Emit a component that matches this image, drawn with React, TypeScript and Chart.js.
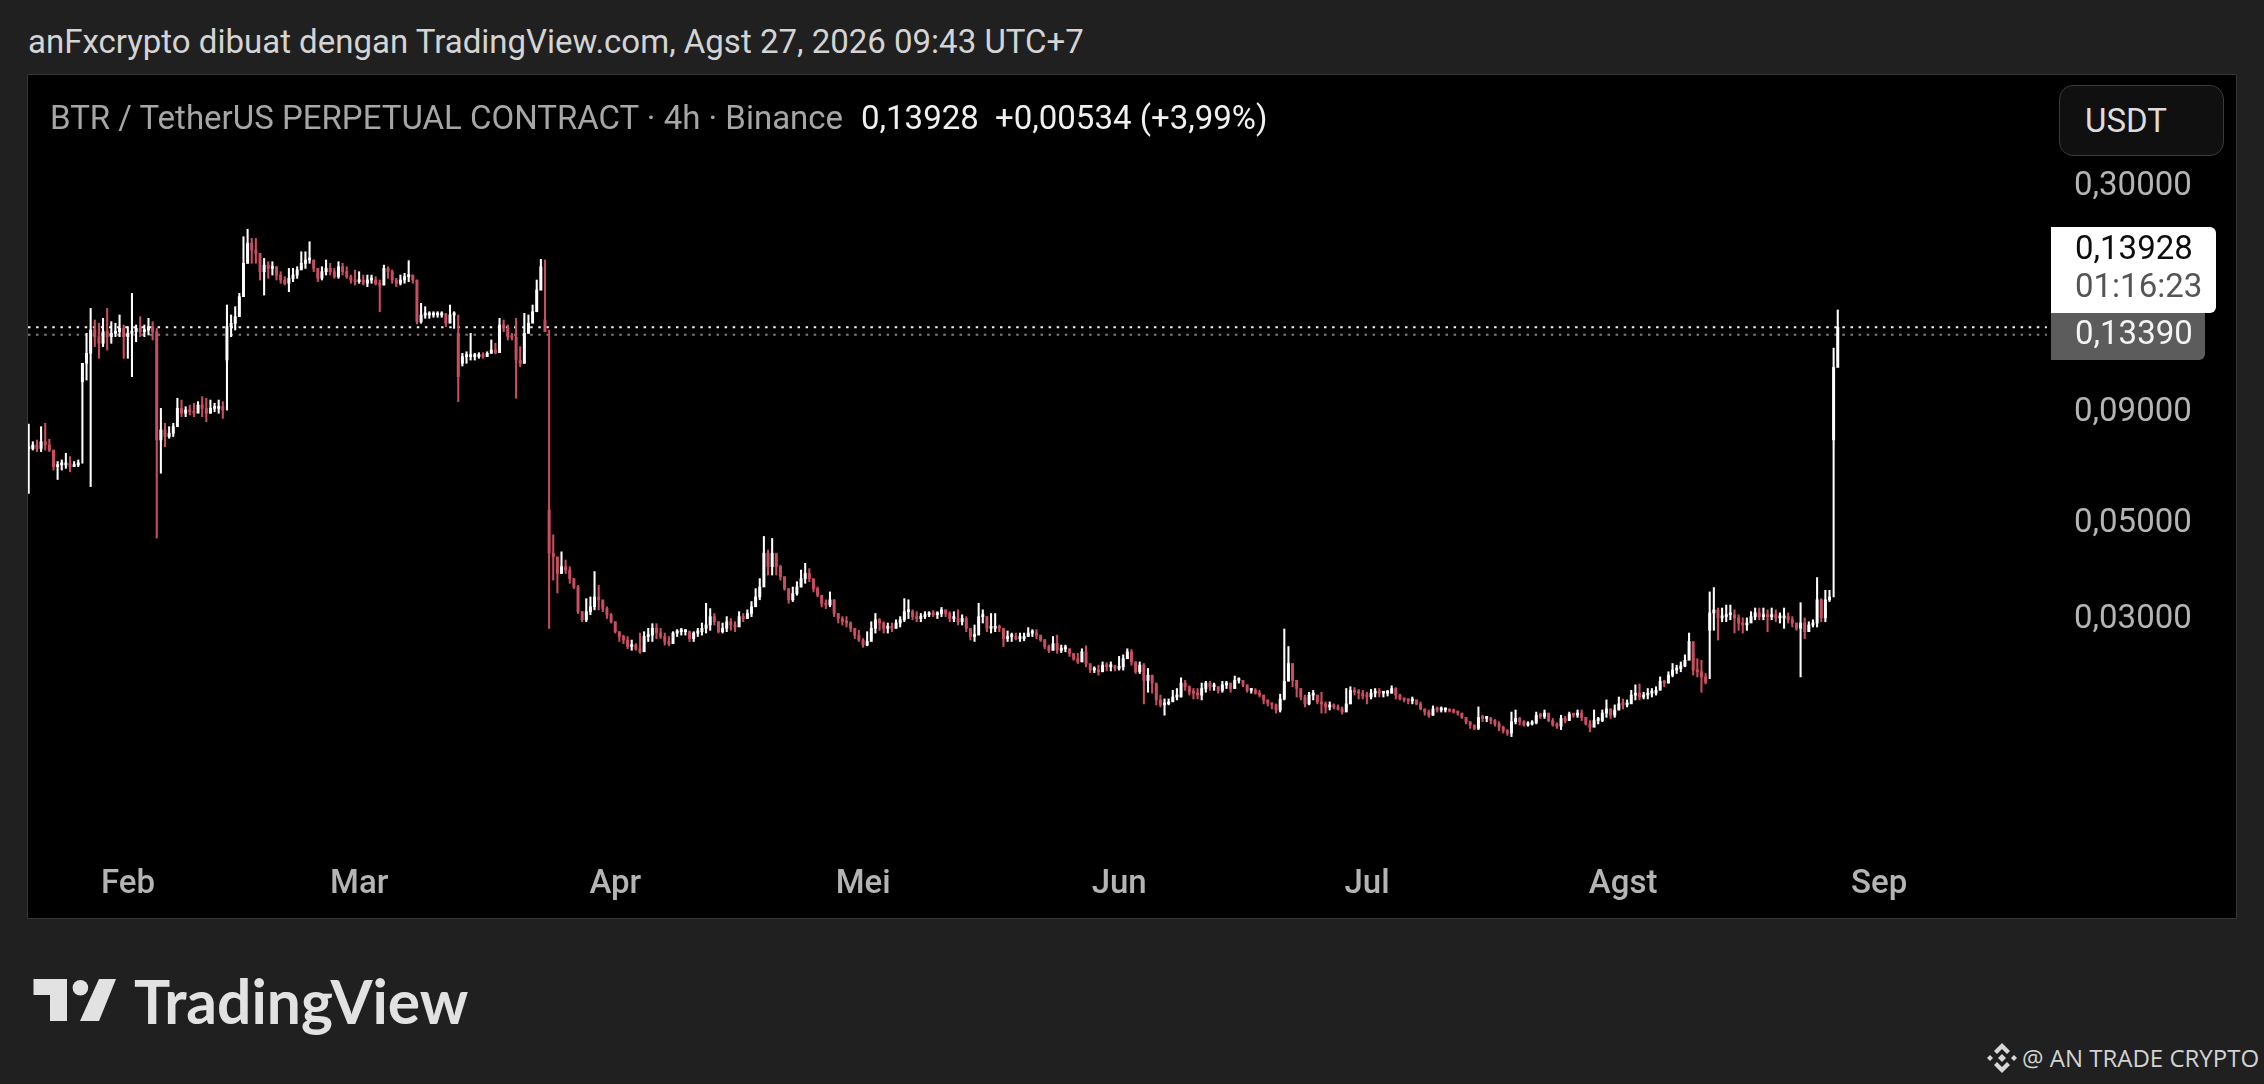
import React, { useEffect, useRef } from "react";
import { Chart, registerables } from "chart.js";

Chart.register(...registerables);

const highs = [
  .0833,.0758,.0765,.0821,.0836,.0768,.0725,.0682,.0688,.0713,
  .0700,.0682,.0688,.1150,.1349,.1540,.1448,.1423,.1461,.1540,
  .1435,.1423,.1487,.1410,.1398,.1668,.1410,.1474,.1410,.1461,
  .1435,.1385,.0905,.0836,.0821,.0836,.0955,.0946,.0913,.0921,
  .0930,.0938,.0963,.0955,.0946,.0930,.0946,.0938,.1568,.1487,
  .1554,.1668,.2255,.2346,.2235,.2235,.2063,.2009,.1974,.1974,
  .1922,.1872,.1823,.1905,.1905,.1922,.2081,.2081,.2195,.1992,
  .1905,.1922,.1992,.1957,.1905,.1974,.1957,.1922,.1839,.1889,
  .1872,.1839,.1839,.1839,.1823,.1791,.1939,.1922,.1889,.1807,
  .1839,.1856,.1985,.1839,.1791,.1582,.1554,.1513,.1513,.1513,
  .1513,.1500,.1568,.1513,.1487,.1213,.1223,.1349,.1213,.1217,
  .1217,.1223,.1302,.1279,.1461,.1448,.1410,.1349,.1461,.1257,
  .1500,.1487,.1568,.1791,.1999,.1992,.1373,.0462,.0383,.0422,
  .0404,.0390,.0366,.0353,.0307,.0329,.0332,.0380,.0353,.0324,
  .0315,.0304,.0291,.0276,.0271,.0269,.0264,.0259,.0274,.0276,
  .0281,.0288,.0288,.0281,.0274,.0269,.0276,.0279,.0281,.0279,
  .0277,.0276,.0281,.0289,.0321,.0312,.0304,.0291,.0289,.0299,
  .0296,.0291,.0307,.0304,.0310,.0324,.0347,.0366,.0458,.0426,
  .0453,.0411,.0393,.0366,.0347,.0350,.0360,.0383,.0397,.0386,
  .0357,.0350,.0335,.0327,.0341,.0327,.0304,.0299,.0299,.0291,
  .0278,.0278,.0266,.0276,.0291,.0304,.0296,.0291,.0289,.0289,
  .0294,.0299,.0329,.0327,.0310,.0307,.0304,.0307,.0307,.0309,
  .0307,.0314,.0310,.0307,.0307,.0310,.0302,.0299,.0276,.0286,
  .0321,.0310,.0299,.0304,.0304,.0286,.0278,.0277,.0274,.0274,
  .0274,.0274,.0282,.0279,.0279,.0271,.0265,.0257,.0269,.0271,
  .0257,.0257,.0252,.0246,.0246,.0252,.0256,.0231,.0229,.0231,
  .0235,.0234,.0235,.0231,.0242,.0244,.0252,.0251,.0235,.0235,
  .0233,.0227,.0219,.0206,.0197,.0193,.0193,.0202,.0204,.0216,
  .0213,.0207,.0204,.0204,.0210,.0212,.0212,.0210,.0206,.0212,
  .0212,.0210,.0218,.0216,.0213,.0208,.0204,.0204,.0202,.0197,
  .0192,.0189,.0188,.0198,.0280,.0255,.0233,.0213,.0204,.0197,
  .0200,.0202,.0197,.0200,.0190,.0190,.0188,.0187,.0185,.0204,
  .0206,.0205,.0203,.0202,.0200,.0203,.0204,.0204,.0201,.0202,
  .0207,.0205,.0198,.0194,.0193,.0195,.0192,.0190,.0183,.0182,
  .0186,.0185,.0185,.0184,.0183,.0183,.0181,.0179,.0175,.0171,
  .0168,.0185,.0177,.0176,.0175,.0173,.0171,.0167,.0164,.0180,
  .0182,.0175,.0172,.0171,.0172,.0180,.0179,.0182,.0179,.0174,
  .0170,.0177,.0176,.0180,.0179,.0182,.0182,.0175,.0172,.0182,
  .0175,.0182,.0192,.0183,.0187,.0195,.0193,.0192,.0202,.0208,
  .0209,.0200,.0204,.0204,.0206,.0217,.0213,.0223,.0233,.0231,
  .0235,.0244,.0274,.0248,.0239,.0237,.0221,.0341,.0349,.0313,
  .0313,.0318,.0318,.0310,.0302,.0297,.0297,.0307,.0313,.0313,
  .0313,.0310,.0313,.0310,.0305,.0313,.0305,.0299,.0289,.0322,
  .0297,.0291,.0294,.0368,.0329,.0344,.0344,.1247,.1527,
];

const lows = [
  .0576,.0725,.0719,.0719,.0725,.0719,.0652,.0620,.0652,.0658,
  .0646,.0664,.0664,.0676,.1052,.0597,.1257,.1181,.1257,.1234,
  .1279,.1325,.1325,.1181,.1181,.1071,.1290,.1325,.1325,.1337,
  .1302,.0454,.0641,.0738,.0772,.0779,.0851,.0866,.0866,.0874,
  .0866,.0897,.0866,.0843,.0882,.0889,.0882,.0858,.0897,.1325,
  .1373,.1500,.1639,.1957,.1957,.1957,.1791,.1653,.1807,.1839,
  .1791,.1760,.1744,.1683,.1775,.1807,.1905,.1905,.1957,.1872,
  .1775,.1791,.1839,.1839,.1807,.1807,.1839,.1807,.1760,.1744,
  .1760,.1744,.1729,.1760,.1744,.1513,.1744,.1807,.1760,.1729,
  .1744,.1760,.1775,.1760,.1418,.1423,.1461,.1461,.1469,.1469,
  .1469,.1398,.1435,.1385,.0938,.1134,.1150,.1170,.1170,.1181,
  .1181,.1192,.1213,.1209,.1234,.1361,.1302,.1302,.0955,.1130,
  .1150,.1349,.1487,.1513,.1698,.1361,.0281,.0363,.0339,.0380,
  .0376,.0357,.0347,.0304,.0291,.0291,.0302,.0310,.0310,.0307,
  .0296,.0289,.0274,.0262,.0259,.0252,.0250,.0250,.0246,.0255,
  .0262,.0262,.0266,.0266,.0257,.0256,.0262,.0269,.0271,.0271,
  .0262,.0262,.0269,.0271,.0274,.0278,.0286,.0274,.0274,.0276,
  .0278,.0276,.0286,.0291,.0296,.0299,.0318,.0327,.0373,.0373,
  .0373,.0373,.0363,.0344,.0321,.0324,.0335,.0350,.0357,.0360,
  .0341,.0332,.0315,.0312,.0315,.0299,.0289,.0286,.0283,.0276,
  .0266,.0262,.0254,.0256,.0266,.0274,.0278,.0274,.0274,.0276,
  .0281,.0283,.0291,.0296,.0294,.0291,.0291,.0296,.0299,.0299,
  .0296,.0299,.0299,.0291,.0291,.0286,.0286,.0276,.0264,.0262,
  .0283,.0289,.0276,.0274,.0276,.0276,.0255,.0262,.0262,.0264,
  .0262,.0263,.0269,.0269,.0266,.0262,.0252,.0247,.0250,.0246,
  .0247,.0248,.0242,.0237,.0233,.0235,.0229,.0222,.0222,.0219,
  .0223,.0224,.0224,.0224,.0225,.0225,.0239,.0231,.0221,.0221,
  .0188,.0200,.0199,.0187,.0185,.0177,.0187,.0191,.0192,.0195,
  .0202,.0197,.0193,.0193,.0192,.0200,.0202,.0202,.0199,.0200,
  .0204,.0200,.0204,.0210,.0206,.0200,.0199,.0198,.0195,.0188,
  .0186,.0183,.0179,.0180,.0192,.0215,.0206,.0195,.0192,.0185,
  .0187,.0192,.0188,.0179,.0179,.0182,.0183,.0182,.0178,.0182,
  .0188,.0197,.0193,.0193,.0188,.0193,.0195,.0195,.0195,.0196,
  .0199,.0193,.0192,.0190,.0188,.0188,.0187,.0182,.0177,.0175,
  .0177,.0180,.0180,.0180,.0180,.0179,.0177,.0174,.0169,.0165,
  .0164,.0164,.0171,.0171,.0169,.0167,.0163,.0161,.0159,.0158,
  .0169,.0168,.0167,.0167,.0168,.0169,.0174,.0174,.0171,.0167,
  .0165,.0164,.0170,.0172,.0175,.0175,.0172,.0168,.0162,.0169,
  .0169,.0171,.0175,.0174,.0175,.0182,.0183,.0185,.0190,.0192,
  .0192,.0193,.0193,.0195,.0197,.0204,.0206,.0210,.0217,.0221,
  .0223,.0229,.0239,.0219,.0217,.0200,.0209,.0215,.0278,.0264,
  .0291,.0291,.0294,.0274,.0278,.0274,.0278,.0294,.0294,.0294,
  .0294,.0276,.0294,.0291,.0289,.0281,.0289,.0283,.0278,.0217,
  .0266,.0278,.0283,.0283,.0291,.0291,.0324,.0332,.1170,
];

const closes = [
  .0731,.0745,.0731,.0758,.0745,.0725,.0664,.0670,.0670,.0676,
  .0664,.0670,.0676,.1150,.1213,.1373,.1325,.1279,.1361,.1325,
  .1349,.1361,.1385,.1325,.1349,.1361,.1385,.1361,.1373,.1398,
  .1361,.0765,.0807,.0779,.0793,.0821,.0905,.0882,.0897,.0889,
  .0882,.0921,.0905,.0882,.0905,.0905,.0913,.0897,.1398,.1423,
  .1474,.1639,.1957,.2176,.2100,.2063,.1872,.1939,.1905,.1922,
  .1839,.1791,.1760,.1807,.1839,.1889,.1957,.1992,.1992,.1905,
  .1807,.1872,.1905,.1872,.1823,.1922,.1872,.1823,.1791,.1775,
  .1791,.1760,.1791,.1791,.1760,.1744,.1905,.1872,.1791,.1760,
  .1791,.1823,.1839,.1791,.1435,.1487,.1487,.1487,.1487,.1487,
  .1495,.1423,.1487,.1487,.1071,.1192,.1192,.1192,.1192,.1196,
  .1192,.1213,.1234,.1217,.1410,.1385,.1325,.1320,.1170,.1150,
  .1349,.1423,.1513,.1698,.1922,.1361,.0419,.0411,.0376,.0390,
  .0383,.0366,.0350,.0307,.0294,.0307,.0315,.0332,.0327,.0312,
  .0302,.0291,.0276,.0269,.0264,.0255,.0257,.0252,.0248,.0269,
  .0271,.0281,.0274,.0269,.0262,.0259,.0274,.0276,.0276,.0276,
  .0266,.0274,.0276,.0281,.0286,.0299,.0291,.0276,.0281,.0291,
  .0286,.0283,.0299,.0296,.0304,.0315,.0332,.0350,.0419,.0390,
  .0419,.0390,.0370,.0347,.0327,.0338,.0350,.0366,.0376,.0366,
  .0347,.0335,.0321,.0318,.0327,.0304,.0296,.0291,.0289,.0281,
  .0271,.0264,.0257,.0262,.0281,.0294,.0289,.0281,.0283,.0281,
  .0289,.0294,.0307,.0307,.0299,.0296,.0299,.0302,.0304,.0302,
  .0304,.0310,.0304,.0296,.0296,.0291,.0296,.0281,.0269,.0271,
  .0299,.0299,.0281,.0281,.0283,.0281,.0266,.0269,.0269,.0266,
  .0266,.0269,.0274,.0274,.0271,.0264,.0255,.0250,.0259,.0250,
  .0252,.0252,.0246,.0239,.0235,.0248,.0233,.0225,.0225,.0223,
  .0231,.0229,.0230,.0227,.0229,.0239,.0248,.0235,.0223,.0231,
  .0213,.0219,.0210,.0192,.0187,.0188,.0190,.0195,.0195,.0210,
  .0206,.0200,.0199,.0197,.0204,.0210,.0206,.0206,.0202,.0208,
  .0210,.0204,.0213,.0213,.0208,.0202,.0202,.0199,.0197,.0192,
  .0189,.0187,.0182,.0193,.0212,.0233,.0213,.0204,.0195,.0188,
  .0197,.0197,.0190,.0188,.0185,.0187,.0185,.0183,.0180,.0188,
  .0202,.0200,.0199,.0196,.0195,.0199,.0200,.0199,.0199,.0199,
  .0204,.0197,.0193,.0192,.0191,.0192,.0188,.0183,.0180,.0177,
  .0183,.0182,.0182,.0182,.0181,.0180,.0179,.0175,.0171,.0168,
  .0165,.0175,.0174,.0174,.0172,.0169,.0166,.0163,.0161,.0171,
  .0174,.0171,.0168,.0169,.0170,.0177,.0176,.0179,.0172,.0168,
  .0167,.0174,.0172,.0178,.0177,.0179,.0175,.0169,.0166,.0172,
  .0172,.0179,.0183,.0177,.0182,.0188,.0187,.0188,.0197,.0199,
  .0195,.0197,.0199,.0199,.0202,.0212,.0210,.0219,.0225,.0227,
  .0230,.0237,.0262,.0225,.0223,.0217,.0211,.0305,.0310,.0297,
  .0299,.0302,.0302,.0297,.0289,.0286,.0289,.0299,.0305,.0299,
  .0302,.0299,.0302,.0297,.0297,.0299,.0294,.0289,.0281,.0289,
  .0276,.0286,.0289,.0327,.0297,.0327,.0332,.1125,.13928,
];

// Candles whose body does not start at the previous close (long single-sided wicks).
const openOverrides: Record<number, number> = {
  13: 0.1043,
  48: 0.117,
  104: 0.1349,
  105: 0.115,
  125: 0.1448,
  126: 0.0527,
  407: 0.0278,
  437: 0.0765,
};

const firstDay = 18.985; // day of the year of the first candle
const candleStepDays = 0.5;
const monthLabels = ["Feb", "Mar", "Apr", "Mei", "Jun", "Jul", "Agst", "Sep"];
const monthDays = [31, 59, 90, 120, 151, 181, 212, 243];
const priceTicks = [0.3, 0.09, 0.05, 0.03];
const lastPrice = 0.13928;
const prevClosePrice = 0.1339;

const UP = "#ffffff";
const DOWN = "#c94f60";

const fmt = (v: number) => v.toFixed(5).replace(".", ",");

function App() {
  const ref = useRef<HTMLCanvasElement>(null);

  useEffect(() => {
    document.body.style.margin = "0";
    document.body.style.background = "#202020";
    const xs = closes.map((_, i) => firstDay + i * candleStepDays);
    const opens = closes.map((_, i) =>
      openOverrides[i] !== undefined ? openOverrides[i] : i === 0 ? closes[0] : closes[i - 1]
    );
    const colors = closes.map((c, i) => (c >= opens[i] ? UP : DOWN));
    const xMin = 18.9;
    const xMax = 263.8;
    const lineEnd = 263.3;
    const noPad = (s: any) => {
      s.paddingTop = 0;
      s.paddingBottom = 0;
      s.paddingLeft = 0;
      s.paddingRight = 0;
    };

    const chart = new Chart(ref.current!, {
      type: "bar",
      data: {
        datasets: [
          {
            type: "line",
            data: [{ x: xMin, y: lastPrice }, { x: lineEnd, y: lastPrice }],
            borderColor: "#f2f2f2",
            borderWidth: 2,
            borderDash: [2.5, 5.6],
            pointRadius: 0,
            order: 3,
          },
          {
            type: "line",
            data: [{ x: xMin, y: prevClosePrice }, { x: lineEnd, y: prevClosePrice }],
            borderColor: "#7d7d7d",
            borderWidth: 2,
            borderDash: [2.5, 5.6],
            pointRadius: 0,
            order: 4,
          },
          {
            data: xs.map((x, i) => ({ x, y: [lows[i], highs[i]] })),
            backgroundColor: colors,
            barThickness: 1.4,
            grouped: false,
            order: 2,
          },
          {
            data: xs.map((x, i) => ({ x, y: [opens[i], closes[i]] })),
            backgroundColor: colors,
            barThickness: 2.3,
            minBarLength: 2,
            grouped: false,
            order: 1,
          },
        ],
      } as any,
      options: {
        responsive: false,
        animation: false,
        devicePixelRatio: 1,
        layout: { padding: 0 },
        plugins: { legend: { display: false }, tooltip: { enabled: false } },
        scales: {
          x: {
            type: "linear",
            min: xMin,
            max: xMax,
            offset: false,
            grid: { display: false },
            border: { display: false },
            afterBuildTicks: (s: any) => {
              s.ticks = monthDays.map((value) => ({ value }));
            },
            afterFit: (s: any) => {
              s.height = 63;
              noPad(s);
            },
            ticks: {
              autoSkip: false,
              maxRotation: 0,
              padding: 2,
              color: "#b4b4b4",
              font: { family: "Roboto", size: 33, weight: "500" },
              callback: (v: any) => monthLabels[monthDays.indexOf(Number(v))] ?? "",
            },
          },
          y: {
            type: "logarithmic",
            position: "right",
            min: 0.008417,
            max: 0.5328,
            bounds: "data",
            grid: { display: false },
            border: { display: false },
            afterBuildTicks: (s: any) => {
              s.ticks = priceTicks.map((value) => ({ value }));
            },
            afterFit: (s: any) => {
              s.width = 185;
              noPad(s);
            },
            ticks: {
              autoSkip: false,
              padding: 15,
              labelOffset: 3.5,
              color: "#b4b4b4",
              crossAlign: "near",
              font: { family: "Roboto", size: 33 },
              callback: (v: any) => fmt(Number(v)),
            },
          },
        },
      } as any,
    });
    return () => chart.destroy();
  }, []);

  const text = (style: React.CSSProperties): React.CSSProperties => ({
    position: "absolute",
    fontFamily: "Roboto, sans-serif",
    fontSize: 33,
    lineHeight: "40px",
    whiteSpace: "nowrap",
    ...style,
  });

  return (
    <div style={{ position: "fixed", left: 0, top: 0, width: 2264, height: 1084, background: "#202020", overflow: "hidden" }}>
      <div style={text({ left: 28, top: 22, color: "#d4d4d4" })}>
        anFxcrypto dibuat dengan TradingView.com, Agst 27, 2026 09:43 UTC+7
      </div>
      <div style={{ position: "absolute", left: 28, top: 75, width: 2208, height: 843, background: "#000", boxShadow: "0 0 0 1px #363636" }}>
        <canvas ref={ref} width={2208} height={843} style={{ display: "block", width: 2208, height: 843 }} />
      </div>
      <div style={text({ left: 50, top: 98, color: "#a6a6a6" })}>
        BTR / TetherUS PERPETUAL CONTRACT · 4h · Binance
      </div>
      <div style={text({ left: 861, top: 98, color: "#f0f0f0" })}>0,13928</div>
      <div style={text({ left: 995, top: 98, color: "#f0f0f0" })}>+0,00534 (+3,99%)</div>
      <div style={{ position: "absolute", left: 2059, top: 85, width: 165, height: 71, boxSizing: "border-box", background: "#101010", border: "1.5px solid #3a3a3a", borderRadius: 14 }} />
      <div style={text({ left: 2085, top: 101, color: "#dddddd" })}>USDT</div>
      <div style={{ position: "absolute", left: 2051, top: 313, width: 154, height: 47, background: "#5c5c5c", borderRadius: "0 0 6px 0" }} />
      <div style={{ position: "absolute", left: 2051, top: 227, width: 165, height: 86, background: "#ffffff", borderRadius: "0 6px 6px 0" }} />
      <div style={text({ left: 2075, top: 228, color: "#0d0d0d" })}>0,13928</div>
      <div style={text({ left: 2075, top: 266, color: "#555555" })}>01:16:23</div>
      <div style={text({ left: 2075, top: 313, color: "#f4f4f4" })}>0,13390</div>

      <svg style={{ position: "absolute", left: 0, top: 960 }} width={130} height={80}>
        <polygon points="33.5,19 67,19 67,61 50,61 50,35 33.5,35" fill="#e2e2e2" />
        <circle cx="80.4" cy="27.7" r="7.8" fill="#e2e2e2" />
        <polygon points="99,19 116,19 99,61 80,61" fill="#e2e2e2" />
      </svg>
      <div style={text({ left: 134, top: 966, fontFamily: "Lato, sans-serif", fontWeight: 700, fontSize: 60.5, lineHeight: "70px", color: "#e2e2e2" })}>
        TradingView
      </div>

      <svg style={{ position: "absolute", left: 1986, top: 1042 }} width={32} height={32} viewBox="0 0 32 32">
        <g fill="#d8d8d8">
          <polygon points="16,1 24,9 21,12 16,7 11,12 8,9" />
          <polygon points="16,31 24,23 21,20 16,25 11,20 8,23" />
          <polygon points="4,13 7,16 4,19 1,16" />
          <polygon points="28,13 31,16 28,19 25,16" />
          <polygon points="16,12 20,16 16,20 12,16" />
        </g>
      </svg>
      <div style={text({ left: 2022, top: 1040, fontFamily: "'Open Sans', sans-serif", fontSize: 24, lineHeight: "36px", color: "#d2d2d2" })}>
        @ AN TRADE CRYPTO
      </div>
    </div>
  );
}

export default App;
